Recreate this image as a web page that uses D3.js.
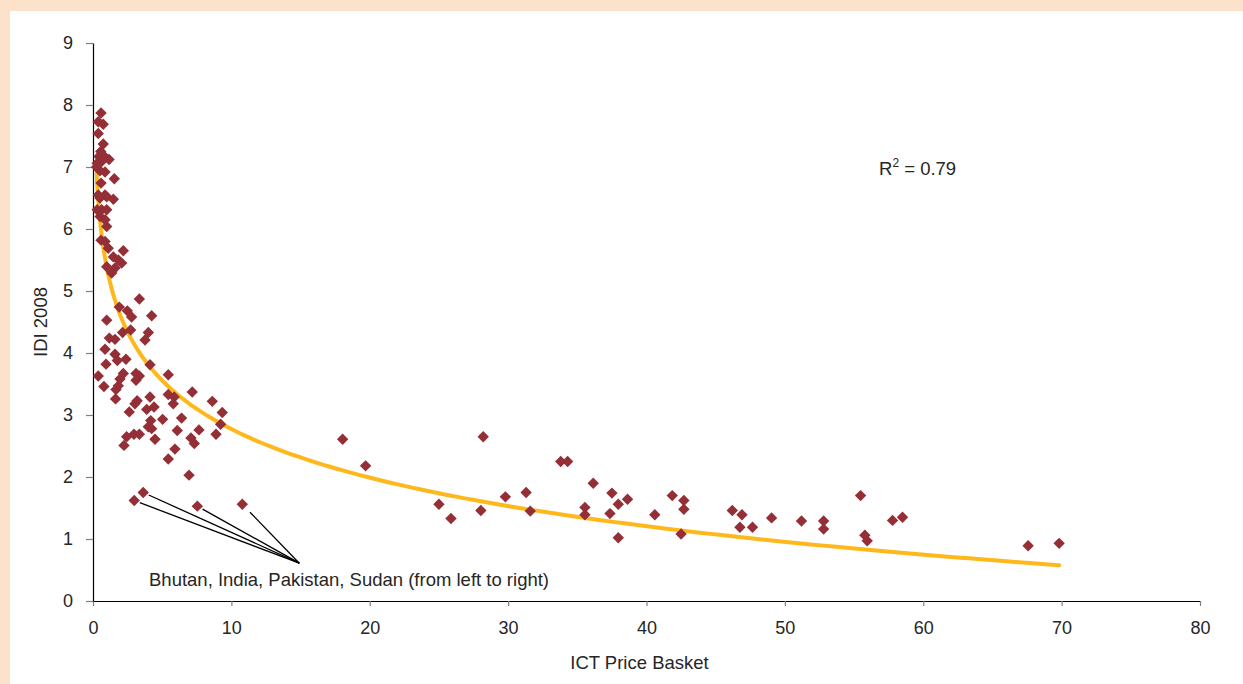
<!DOCTYPE html>
<html>
<head>
<meta charset="utf-8">
<script src="https://cdn.jsdelivr.net/npm/d3@7"></script>
<style>
  html, body { margin: 0; padding: 0; background: #fde2cb; }
  svg { display: block; }
  text { font-family: "Liberation Sans", Arial, sans-serif; fill: #262626; }
</style>
</head>
<body>
<svg id="chart" width="1243" height="684"></svg>
<script>
// ICT Price Basket (x) and IDI 2008 (y) per economy
const ictPrice = [
  0.58, 0.38, 0.74, 0.38, 0.74, 0.56, 0.43, 0.74, 1.16, 0.30,
  0.63, 0.26, 0.87, 0.50, 1.54, 0.58, 0.38, 0.87, 1.47, 0.50,
  0.99, 0.30, 0.63, 0.99, 0.51, 0.87, 0.99, 0.87, 0.58, 1.10,
  2.19, 1.47, 1.83, 2.07, 0.99, 1.35, 1.59,
  3.35, 1.90, 2.48, 2.79, 4.24, 0.99, 2.72, 2.14, 4.00, 3.76,
  1.18, 1.59, 0.87, 1.59, 1.76, 2.38, 0.94, 4.12, 0.38, 2.19,
  3.11, 3.35, 5.44, 1.95, 3.11, 0.79, 1.83, 1.66, 1.63, 5.44,
  7.17, 5.87, 4.12, 5.80, 8.62, 3.19, 3.03, 2.62, 3.88, 4.41,
  9.34, 5.03, 6.40, 4.17, 9.22, 4.00, 4.24, 6.09, 7.66, 2.43,
  2.96, 3.35, 7.08, 8.89, 4.48, 7.32, 2.24, 5.92, 5.44, 6.94,
  2.98, 3.63, 7.54, 10.79,
  18.04, 19.70, 28.20, 25.00, 25.87, 28.03, 29.80, 31.30, 31.60, 33.80,
  34.30, 36.15, 35.55, 35.55, 37.50, 37.96, 37.36, 38.63, 37.96, 40.60,
  41.86, 42.70, 42.70, 42.50, 46.20, 46.90, 46.75, 47.66, 49.04, 51.20,
  52.80, 52.80, 55.47, 55.78, 55.95, 57.78, 58.50, 67.58, 69.82
];
const idi2008 = [
  7.87, 7.73, 7.69, 7.54, 7.37, 7.25, 7.17, 7.19, 7.12, 7.06,
  7.09, 7.00, 6.92, 6.94, 6.81, 6.74, 6.55, 6.55, 6.48, 6.50,
  6.52, 6.31, 6.31, 6.31, 6.20, 6.15, 6.04, 5.80, 5.82, 5.69,
  5.65, 5.55, 5.50, 5.45, 5.39, 5.29, 5.37,
  4.87, 4.74, 4.68, 4.58, 4.60, 4.53, 4.37, 4.33, 4.33, 4.21,
  4.24, 4.22, 4.06, 3.98, 3.88, 3.90, 3.82, 3.81, 3.63, 3.67,
  3.67, 3.63, 3.65, 3.58, 3.56, 3.46, 3.47, 3.41, 3.26, 3.33,
  3.37, 3.29, 3.29, 3.18, 3.22, 3.23, 3.18, 3.05, 3.09, 3.13,
  3.04, 2.93, 2.95, 2.91, 2.85, 2.81, 2.78, 2.75, 2.76, 2.65,
  2.69, 2.69, 2.63, 2.69, 2.61, 2.54, 2.51, 2.45, 2.29, 2.03,
  1.62, 1.75, 1.53, 1.56,
  2.61, 2.18, 2.65, 1.56, 1.33, 1.46, 1.68, 1.75, 1.45, 2.25,
  2.25, 1.90, 1.51, 1.39, 1.74, 1.56, 1.41, 1.64, 1.02, 1.39,
  1.70, 1.62, 1.48, 1.08, 1.46, 1.39, 1.19, 1.19, 1.34, 1.29,
  1.29, 1.16, 1.70, 1.06, 0.97, 1.30, 1.35, 0.89, 0.93
];

// Logarithmic trend: IDI = trendSlope * ln(price) + trendIntercept
const trendSlope = -1.13;
const trendIntercept = 5.375;
const rSquared = 0.79;

// Economies called out in the note, and where their leader lines meet
const calloutPrice = [2.98, 3.63, 7.54, 10.79];
const calloutIdi = [1.62, 1.75, 1.53, 1.56];
const calloutMeet = [14.91, 0.61];
const calloutText = "Bhutan, India, Pakistan, Sudan (from left to right)";

const xTicks = [0, 10, 20, 30, 40, 50, 60, 70, 80];
const yTicks = [0, 1, 2, 3, 4, 5, 6, 7, 8, 9];
const xTitle = "ICT Price Basket";
const yTitle = "IDI 2008";

const labelSize = 18.5;
const tickSize = 18;

const svg = d3.select("#chart");

// white plotting panel inside the peach frame
svg.append("rect")
  .attr("x", 10).attr("y", 11)
  .attr("width", 1233).attr("height", 673)
  .attr("fill", "#ffffff");

const x = d3.scaleLinear().domain([0, 80]).range([93, 1200]);
const y = d3.scaleLinear().domain([0, 9]).range([601, 43]);

// axes
const xAxis = svg.append("g")
  .attr("transform", `translate(0,${y(0)})`)
  .call(d3.axisBottom(x).tickValues(xTicks).tickFormat(d3.format("d"))
    .tickSizeInner(5).tickSizeOuter(0).tickPadding(15));
const yAxis = svg.append("g")
  .attr("transform", `translate(${x(0)},0)`)
  .call(d3.axisLeft(y).tickValues(yTicks).tickFormat(d3.format("d"))
    .tickSizeInner(7).tickSizeOuter(0).tickPadding(13));

[xAxis, yAxis].forEach(g => {
  g.select(".domain").attr("stroke", "#000").attr("stroke-width", 1.2);
  g.selectAll(".tick line").attr("stroke", "#808080").attr("stroke-width", 1.2);
  g.selectAll(".tick text")
    .attr("font-family", '"Liberation Sans", Arial, sans-serif')
    .attr("font-size", tickSize).attr("fill", "#262626");
});

// axis titles
svg.append("text")
  .attr("x", x(40) - 7).attr("y", 669)
  .attr("text-anchor", "middle").attr("font-size", labelSize)
  .text(xTitle);
svg.append("text")
  .attr("transform", `translate(47,${y(4.5)}) rotate(-90)`)
  .attr("text-anchor", "middle").attr("font-size", labelSize)
  .text(yTitle);

// trend line across the data's price range
const [pMin, pMax] = d3.extent(ictPrice);
const trendPts = d3.range(0, 401).map(i => {
  const p = Math.exp(Math.log(pMin) + (Math.log(pMax) - Math.log(pMin)) * i / 400);
  return [p, trendSlope * Math.log(p) + trendIntercept];
});
svg.append("path")
  .datum(trendPts)
  .attr("fill", "none")
  .attr("stroke", "#ffb81c")
  .attr("stroke-width", 4)
  .attr("stroke-linecap", "round")
  .attr("d", d3.line().x(d => x(d[0])).y(d => y(d[1])));

// scatter of diamonds
const r = 5.7;
const diamond = (cx, cy) => `M${cx},${cy - r}L${cx + r},${cy}L${cx},${cy + r}L${cx - r},${cy}Z`;
svg.append("g")
  .selectAll("path")
  .data(d3.range(ictPrice.length))
  .join("path")
  .attr("fill", "#952f37")
  .attr("d", i => diamond(x(ictPrice[i]), y(idi2008[i])));

// leader lines for the called-out economies
const meetX = x(calloutMeet[0]), meetY = y(calloutMeet[1]);
const leaderGaps = [6, 6, 6, 11];
svg.append("g")
  .selectAll("line")
  .data(d3.range(calloutPrice.length))
  .join("line")
  .each(function (i) {
    const px = x(calloutPrice[i]), py = y(calloutIdi[i]);
    const dx = meetX - px, dy = meetY - py, len = Math.hypot(dx, dy);
    d3.select(this)
      .attr("x1", px + dx / len * leaderGaps[i])
      .attr("y1", py + dy / len * leaderGaps[i])
      .attr("x2", meetX).attr("y2", meetY);
  })
  .attr("stroke", "#000").attr("stroke-width", 1.3);

svg.append("text")
  .attr("x", 149).attr("y", 586)
  .attr("font-size", labelSize)
  .text(calloutText);

// goodness-of-fit label
const r2 = svg.append("text")
  .attr("x", 879).attr("y", 175)
  .attr("font-size", labelSize);
r2.append("tspan").text("R");
r2.append("tspan").attr("font-size", 12).attr("dy", -8).text("2");
r2.append("tspan").attr("dy", 8).text(" = " + rSquared.toFixed(2));
</script>
</body>
</html>
